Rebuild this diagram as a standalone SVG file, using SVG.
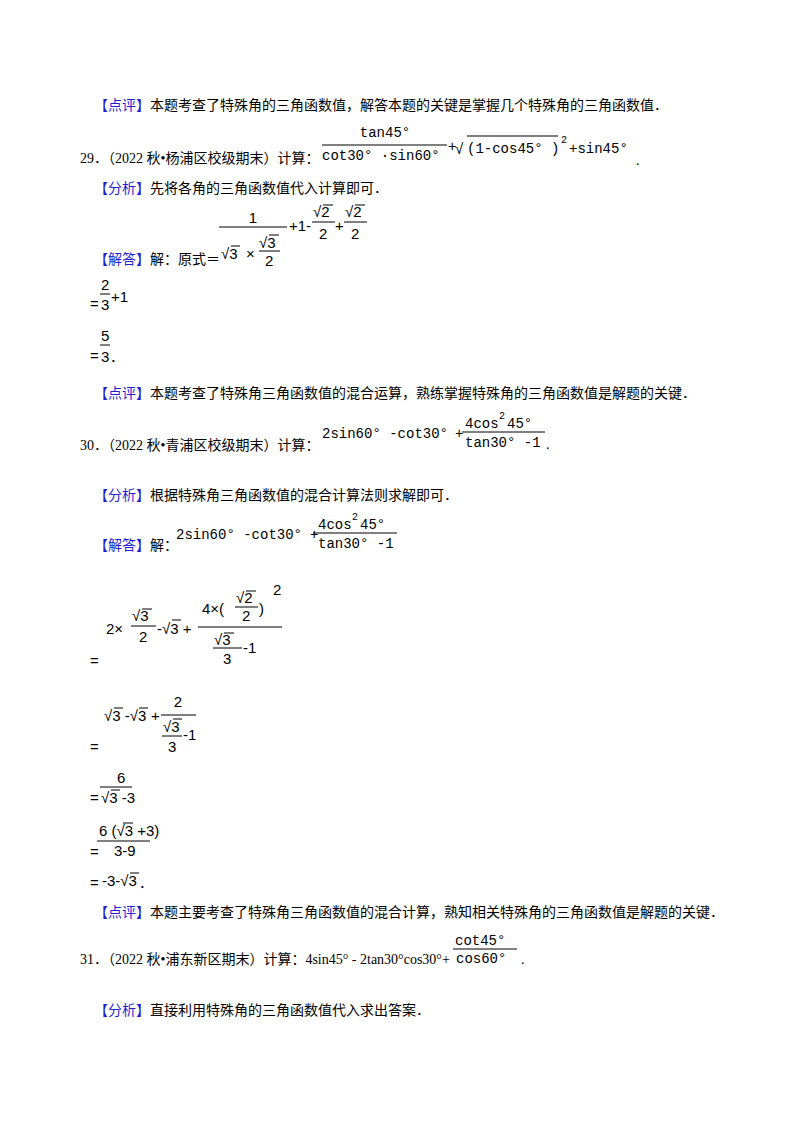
<svg xmlns="http://www.w3.org/2000/svg" width="800" height="1132" viewBox="0 0 800 1132">
<style>
.t{font-family:"Liberation Serif","Noto Sans CJK SC",serif;font-size:14px;fill:#000}
.b{fill:#1f1fd0}
.m{font-family:"Liberation Mono","DejaVu Sans Mono",monospace;font-size:14px;fill:#000}
.s{font-family:"Liberation Sans","DejaVu Sans",sans-serif;font-size:15px;fill:#000}
.e{font-family:"Liberation Sans",sans-serif;font-size:15px;fill:#000}
.sup{font-size:10px}
line{stroke:#000;stroke-width:1}
</style>
<rect width="800" height="1132" fill="#fff"/>
<text class="t" x="94" y="110"><tspan class="b">【点评】</tspan>本题考查了特殊角的三角函数值，解答本题的关键是掌握几个特殊角的三角函数值．</text>
<!-- Q29 -->
<text class="t" x="80" y="163">29．（2022 秋•杨浦区校级期末）计算：</text>
<text class="m" x="385" y="137" text-anchor="middle">tan45°</text>
<line x1="322" y1="145" x2="447" y2="145"/>
<text class="m" x="322" y="160">cot30° ·sin60°</text>
<text class="m" x="448" y="151">+</text>
<text class="s" x="455" y="154" font-size="20">√</text>
<line x1="467" y1="136" x2="558" y2="136"/>
<text class="m" x="467" y="153">(1-cos45° )</text>
<text class="m sup" x="561" y="143">2</text>
<text class="m" x="569" y="153">+sin45°</text>
<text class="t" x="636" y="165">.</text>
<text class="t" x="94" y="193"><tspan class="b">【分析】</tspan>先将各角的三角函数值代入计算即可．</text>
<!-- solution 29 -->
<text class="s" x="253" y="223" text-anchor="middle">1</text>
<line x1="219" y1="227" x2="287" y2="227"/>
<text class="s" x="221" y="259">√3</text>
<line x1="231" y1="246" x2="240" y2="246"/>
<text class="s" x="246" y="259">×</text>
<text class="s" x="259" y="248">√3</text>
<line x1="269" y1="235" x2="279" y2="235"/>
<line x1="259" y1="251" x2="280" y2="251"/>
<text class="s" x="265" y="266">2</text>
<text class="s" x="289" y="231">+1-</text>
<text class="s" x="313" y="217">√2</text>
<line x1="323" y1="205" x2="333" y2="205"/>
<line x1="312" y1="222" x2="335" y2="222"/>
<text class="s" x="319" y="239">2</text>
<text class="s" x="335" y="231">+</text>
<text class="s" x="345" y="217">√2</text>
<line x1="355" y1="205" x2="365" y2="205"/>
<line x1="344" y1="222" x2="367" y2="222"/>
<text class="s" x="351" y="239">2</text>
<text class="t" x="94" y="264"><tspan class="b">【解答】</tspan>解：原式＝</text>
<text class="e" x="90" y="309">=</text>
<text class="s" x="101" y="290">2</text>
<line x1="100" y1="294" x2="110" y2="294"/>
<text class="s" x="101" y="310">3</text>
<text class="s" x="111" y="302">+1</text>
<text class="e" x="90" y="361">=</text>
<text class="s" x="101" y="341">5</text>
<line x1="100" y1="345" x2="110" y2="345"/>
<text class="s" x="101" y="362">3</text>
<text class="t" x="110" y="362">．</text>
<text class="t" x="94" y="398"><tspan class="b">【点评】</tspan>本题考查了特殊角三角函数值的混合运算，熟练掌握特殊角的三角函数值是解题的关键．</text>
<!-- Q30 -->
<text class="t" x="80" y="450">30．（2022 秋•青浦区校级期末）计算：</text>
<text class="m" x="322" y="438">2sin60° -cot30°</text>
<text class="m" x="455" y="438">+</text>
<text class="m" x="465" y="428">4cos</text>
<text class="m sup" x="499" y="419">2</text>
<text class="m" x="507" y="428">45°</text>
<line x1="462" y1="432" x2="545" y2="432"/>
<text class="m" x="465" y="447">tan30° -1</text>
<text class="t" x="546" y="449">.</text>
<text class="t" x="94" y="500"><tspan class="b">【分析】</tspan>根据特殊角三角函数值的混合计算法则求解即可．</text>
<text class="t" x="94" y="550"><tspan class="b">【解答】</tspan>解：</text>
<text class="m" x="176" y="539">2sin60° -cot30°</text>
<text class="m" x="310" y="539">+</text>
<text class="m" x="318" y="529">4cos</text>
<text class="m sup" x="352" y="520">2</text>
<text class="m" x="360" y="529">45°</text>
<line x1="313" y1="533" x2="397" y2="533"/>
<text class="m" x="318" y="548">tan30° -1</text>
<!-- step 1 -->
<text class="e" x="90" y="666">=</text>
<text class="s" x="106" y="634">2×</text>
<text class="s" x="132" y="621">√3</text>
<line x1="142" y1="609" x2="152" y2="609"/>
<line x1="131" y1="626" x2="156" y2="626"/>
<text class="s" x="139" y="642">2</text>
<text class="s" x="157" y="634">-√3 +</text>
<line x1="172" y1="620" x2="181" y2="620"/>
<text class="s" x="202" y="614">4×(</text>
<text class="s" x="236" y="603">√2</text>
<line x1="246" y1="591" x2="256" y2="591"/>
<line x1="235" y1="607" x2="258" y2="607"/>
<text class="s" x="242" y="621">2</text>
<text class="s" x="259" y="614">)</text>
<text class="s" x="273" y="595" font-size="11">2</text>
<line x1="198" y1="627" x2="282" y2="627"/>
<text class="s" x="214" y="645">√3</text>
<line x1="224" y1="633" x2="234" y2="633"/>
<line x1="213" y1="648" x2="242" y2="648"/>
<text class="s" x="223" y="664">3</text>
<text class="s" x="243" y="653">-1</text>
<!-- step 2 -->
<text class="e" x="90" y="752">=</text>
<text class="s" x="104" y="721">√3 -√3</text>
<line x1="114" y1="708" x2="123" y2="708"/>
<line x1="139" y1="708" x2="148" y2="708"/>
<text class="s" x="151" y="721">+</text>
<text class="s" x="178" y="707" text-anchor="middle">2</text>
<line x1="161" y1="715" x2="196" y2="715"/>
<text class="s" x="163" y="732">√3</text>
<line x1="173" y1="719" x2="182" y2="719"/>
<line x1="162" y1="736" x2="182" y2="736"/>
<text class="s" x="168" y="752">3</text>
<text class="s" x="183" y="740">-1</text>
<!-- step 3 -->
<text class="s" x="117" y="783">6</text>
<line x1="100" y1="787" x2="132" y2="787"/>
<text class="e" x="90" y="803">=</text>
<text class="s" x="101" y="803">√3 -3</text>
<line x1="111" y1="790" x2="120" y2="790"/>
<!-- step 4 -->
<text class="s" x="99" y="836">6 (√3 +3)</text>
<line x1="123" y1="823" x2="133" y2="823"/>
<line x1="97" y1="841" x2="150" y2="841"/>
<text class="s" x="114" y="856">3-9</text>
<text class="e" x="90" y="857">=</text>
<!-- step 5 -->
<text class="e" x="90" y="888">=</text>
<text class="s" x="102" y="886">-3-√3</text>
<line x1="130" y1="873" x2="139" y2="873"/>
<text class="t" x="139" y="888">．</text>
<text class="t" x="94" y="917"><tspan class="b">【点评】</tspan>本题主要考查了特殊角三角函数值的混合计算，熟知相关特殊角的三角函数值是解题的关键．</text>
<!-- Q31 -->
<text class="m" x="455" y="945" font-size="15">cot45°</text>
<line x1="453" y1="949" x2="517" y2="949"/>
<text class="t" x="80" y="964">31．（2022 秋•浦东新区期末）计算：4sin45° - 2tan30°cos30°+</text>
<text class="m" x="456" y="963" font-size="15">cos60°</text>
<text class="t" x="521" y="964">.</text>
<text class="t" x="94" y="1015"><tspan class="b">【分析】</tspan>直接利用特殊角的三角函数值代入求出答案．</text>
</svg>
